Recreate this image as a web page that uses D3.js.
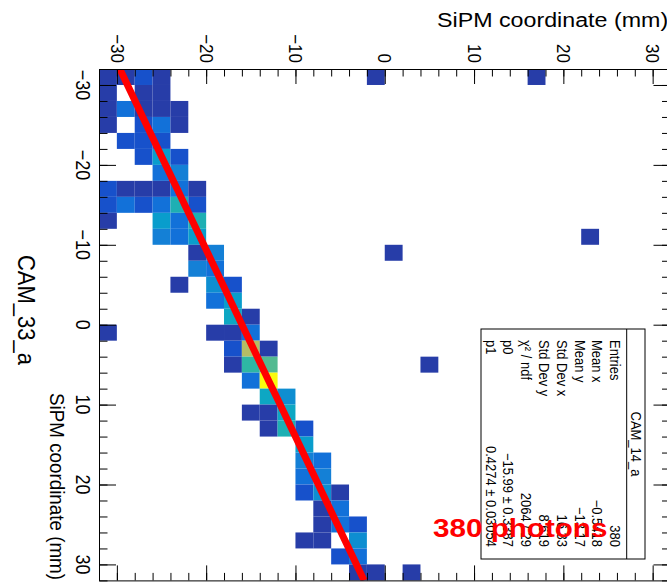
<!DOCTYPE html>
<html>
<head>
<meta charset="utf-8">
<script src="https://cdn.jsdelivr.net/npm/d3@7"></script>
<style>
  html, body { margin: 0; padding: 0; background: #fff; }
  svg { display: block; font-family: "Liberation Sans", Arial, Helvetica, sans-serif; }
</style>
</head>
<body>
<svg id="chart" width="667" height="584"></svg>
<script>
// CAM_33_a hit map, 2 mm bins. Each filled bin: lower edge along the
// left axis (fit variable x), lower edge along the top axis (fit variable y), count.
const binLeft = [
  -32,-32,-32,-32,-32,-32, -30,-30,-30, -28,-28,-28,-28,-28, -26,-26,-26,-26,
  -24,-24,-24, -22,-22,-22, -20,-20, -18,-18,-18,-18,-18,-18, -16,-16,-16,-16,-16,-16,
  -14,-14,-14,-14, -12,-12,-12,-12, -10,-10,-10, -8,-8, -6,-6,-6, -4,-4, -2,-2,
  0,0,0,0, 2,2,2, 4,4,4,4, 6,6, 8,8, 10,10,10, 12,12,12, 14, 16,16, 18,18,
  20,20,20, 22,22, 24,24,24, 26,26,26, 28,28, 30,30,30
];
const binTop = [
  -32,-30,-28,-26,-2,16, -32,-28,-26, -32,-30,-28,-26,-24, -32,-28,-26,-24,
  -30,-28,-26, -28,-26,-24, -26,-24, -32,-30,-28,-26,-24,-22, -32,-30,-28,-26,-24,-22,
  -32,-26,-24,-22, -26,-24,-22,22, -22,-20,0, -22,-20, -24,-20,-18, -20,-18, -18,-16,
  -32,-20,-18,-16, -18,-16,-14, -18,-16,-14,4, -16,-14, -14,-12, -16,-14,-12, -14,-12,-10, -10, -10,-8, -10,-8,
  -10,-8,-6, -8,-6, -8,-6,-4, -10,-8,-4, -6,-4, -4,-2,2
];
const binCount = [
  1,1,2,1,1,1, 1,1,1, 1,4,1,1,1, 1,2,4,1,
  2,2,2, 2,8,2, 4,5, 2,1,1,1,4,1, 2,4,2,4,10,2,
  1,8,4,10, 5,4,8,1, 1,5,1, 5,4, 1,6,2, 4,8, 9,1,
  1,1,1,4, 2,16,1, 1,11,12,1, 4,24, 9,6, 1,1,9, 1,10,2, 8, 5,4, 4,5,
  2,6,1, 1,4, 1,4,2, 1,1,6, 2,4, 1,1,1
];
const binWidth = 2;

// Axis ticks and labels
const axisRange = [-32, 32];
const majorTicks = [-30, -20, -10, 0, 10, 20, 30];
const minorTicks = d3.range(-32, 33, 2);
const axisTitle = "SiPM coordinate (mm)";
const histTitle = "CAM_33_a";
const photonNote = "380 photons";

// Fit y = p0 + p1 * x
const p0 = -15.99;
const p1 = 0.4274;

// Statistics box
const statsName = "CAM_14_a";
const statsLabels = ["Entries", "Mean x", "Mean y", "Std Dev x", "Std Dev y", "\u03c7\u00b2 / ndf", "p0", "p1"];
const statsValues = ["380", "\u22120.5418", "\u221213.17", "16.33", "8.619", "2064 / 29", "\u221215.99 \u00b1 0.3387", "0.4274 \u00b1 0.03054"];

// Colour palette (bird) stops
const birdStops = [0.0, 0.125, 0.25, 0.375, 0.5, 0.625, 0.75, 0.875, 1.0];
const birdR = [0.2082, 0.0592, 0.0780, 0.0232, 0.1802, 0.5301, 0.8186, 0.9956, 0.9764];
const birdG = [0.1664, 0.3599, 0.5041, 0.6419, 0.7178, 0.7492, 0.7328, 0.7862, 0.9832];
const birdB = [0.5293, 0.8684, 0.8385, 0.7914, 0.6425, 0.4662, 0.3499, 0.1968, 0.0539];

const svg = d3.select("#chart");
const frame = { left: 99, top: 69, right: 670.5, bottom: 580.4 };
const sx = 1.118; // horizontal glyph stretch

// top axis: fit variable y ; left axis: fit variable x
const xTop = d3.scaleLinear().domain(axisRange).range([frame.left, frame.right]);
const yLeft = d3.scaleLinear().domain(axisRange).range([frame.top, frame.bottom]);

// 255-colour gradient table with 20 contour levels
const nColors = 255, nLevels = 20;
const gradient = d3.range(nColors).map(i => {
  const f = i / (nColors - 1);
  const k = Math.min(birdStops.length - 2, d3.bisectRight(birdStops, f) - 1);
  const t = (f - birdStops[k]) / (birdStops[k + 1] - birdStops[k]);
  const c = a => Math.round(255 * (a[k] + t * (a[k + 1] - a[k])));
  return d3.rgb(c(birdR), c(birdG), c(birdB)).formatHex();
});
const zMax = d3.max(binCount);
const levelColor = z => {
  let lev = Math.floor(z * nLevels / zMax + 0.01);
  lev = Math.min(lev, nLevels - 1);
  return gradient[Math.min(nColors - 1, Math.floor((lev + 0.99) * nColors / nLevels))];
};

svg.append("defs").append("clipPath").attr("id", "frameClip")
  .append("rect")
  .attr("x", frame.left).attr("y", frame.top)
  .attr("width", frame.right - frame.left).attr("height", frame.bottom - frame.top);

// bins
svg.append("g").selectAll("rect")
  .data(binCount.map((n, i) => ({ u: binTop[i], v: binLeft[i], n })))
  .join("rect")
  .attr("x", d => xTop(d.u))
  .attr("y", d => yLeft(d.v))
  .attr("width", d => xTop(d.u + binWidth) - xTop(d.u))
  .attr("height", d => yLeft(d.v + binWidth) - yLeft(d.v))
  .attr("fill", d => levelColor(d.n));

// fit line
const fitX = d3.range(axisRange[0], axisRange[1] + 0.001, 1);
svg.append("path")
  .attr("clip-path", "url(#frameClip)")
  .attr("d", d3.line().x(x => xTop(p0 + p1 * x)).y(x => yLeft(x))(fitX))
  .attr("fill", "none")
  .attr("stroke", "#ff0000")
  .attr("stroke-width", 7);

// axes: major and minor ticks pointing into the frame
function drawAxis(axisFn, scale, transform, major, minor) {
  const g = svg.append("g").attr("transform", transform);
  g.call(axisFn(scale).tickValues(minorTicks).tickSize(minor).tickSizeOuter(0).tickFormat(""));
  g.append("g").call(axisFn(scale).tickValues(majorTicks).tickSize(major).tickSizeOuter(0).tickFormat(""))
    .select(".domain").remove();
  g.selectAll("line").attr("stroke", "#000").attr("stroke-width", 1);
  g.selectAll(".domain").attr("stroke", "#000").attr("stroke-width", 1);
}
drawAxis(d3.axisBottom, xTop, `translate(0,${frame.top})`, 15, 7.5);
drawAxis(d3.axisTop, xTop, `translate(0,${frame.bottom})`, 15, 7.5);
drawAxis(d3.axisRight, yLeft, `translate(${frame.left},0)`, 17, 8.5);
drawAxis(d3.axisLeft, yLeft, `translate(${frame.right},0)`, 17, 8.5);

const fmt = v => (v < 0 ? "\u2212" : "") + Math.abs(v);

// rotated text helper: reads top to bottom
function vtext(x, y, str, size, anchor, opts = {}) {
  return svg.append("text")
    .attr("transform", `translate(${x},${y}) scale(${sx},1) rotate(90)`)
    .attr("text-anchor", anchor)
    .attr("dominant-baseline", "central")
    .attr("font-size", size)
    .attr("fill", opts.fill || "#000")
    .text(str);
}

// top axis labels
majorTicks.forEach(v => vtext(xTop(v), 63, fmt(v), 17, "end"));
// left axis labels
majorTicks.forEach(v => vtext(83, yLeft(v), fmt(v), 18, "middle"));

// axis titles
vtext(57, 580, axisTitle, 18.8, "end");
svg.append("text")
  .attr("transform", `translate(437,27) scale(${sx},1)`)
  .attr("font-size", 20.8)
  .attr("fill", "#000")
  .text(axisTitle);

// histogram title
vtext(26, 310, histTitle, 22, "middle");

// statistics box
const box = { x0: 481, x1: 645, y0: 329, y1: 559, split: 626.7 };
svg.append("rect")
  .attr("x", box.x0).attr("y", box.y0)
  .attr("width", box.x1 - box.x0).attr("height", box.y1 - box.y0)
  .attr("fill", "#fff").attr("stroke", "#000").attr("stroke-width", 1);
svg.append("line")
  .attr("x1", box.split).attr("x2", box.split).attr("y1", box.y0).attr("y2", box.y1)
  .attr("stroke", "#000").attr("stroke-width", 1);
vtext((box.split + box.x1) / 2, (box.y0 + box.y1) / 2, statsName, 13, "middle");
const lineStep = 17.8;
statsLabels.forEach((lab, i) => {
  const cx = 615 - i * lineStep;
  vtext(cx, 340, lab, 13, "start");
  vtext(cx, 547, statsValues[i], 13, "end");
});

// photon count note
svg.append("text")
  .attr("transform", `translate(433,537) scale(${sx},1)`)
  .attr("font-size", 26.5)
  .attr("font-weight", "bold")
  .attr("fill", "#ff0000")
  .text(photonNote);
</script>
</body>
</html>
